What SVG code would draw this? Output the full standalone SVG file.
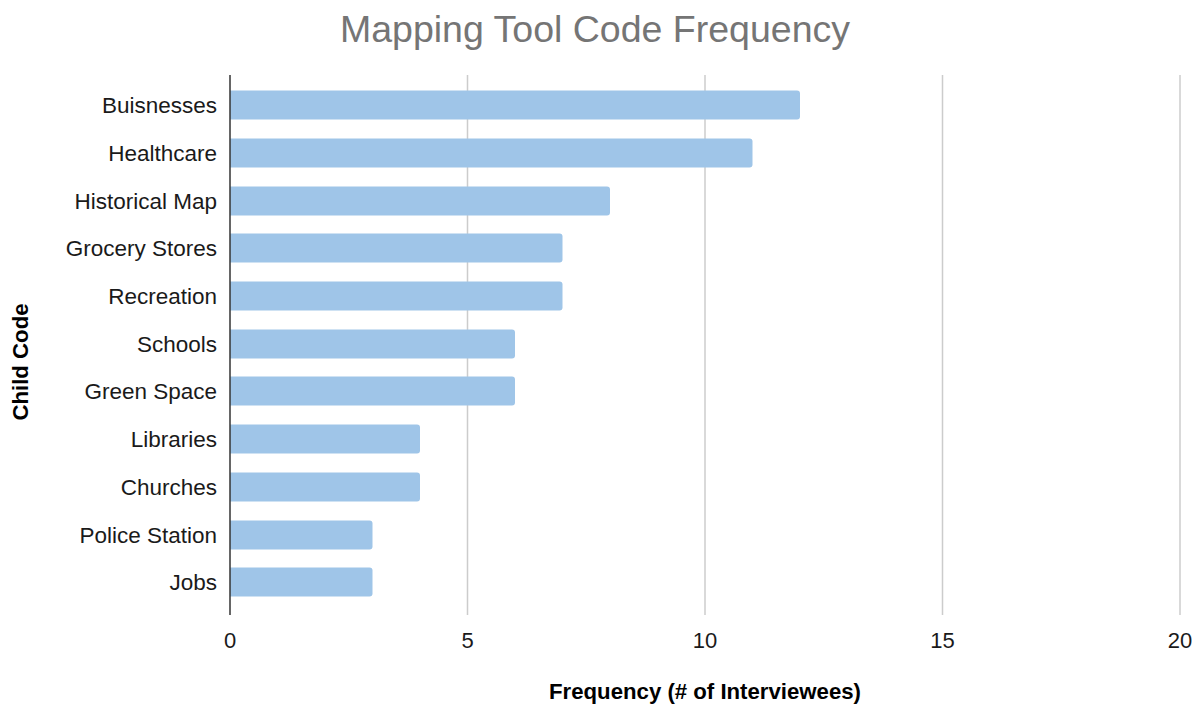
<svg xmlns="http://www.w3.org/2000/svg" width="1200" height="706" viewBox="0 0 1200 706">
<style>
.grid{stroke:#cccccc;stroke-width:1.5}
.axis{stroke:#333333;stroke-width:1.5}
.bar{fill:#9fc5e8}
.cat{font-family:"Liberation Sans",Arial,sans-serif;font-size:22.5px;fill:#1a1a1a;text-anchor:end}
.tick{font-family:"Liberation Sans",Arial,sans-serif;font-size:22px;fill:#1a1a1a;text-anchor:middle}
.atitle{font-family:"Liberation Sans",Arial,sans-serif;font-size:22.2px;font-weight:bold;fill:#000000;text-anchor:middle}
.title{font-family:"Liberation Sans",Arial,sans-serif;font-size:37.5px;fill:#757575;text-anchor:middle}
</style>
<rect width="1200" height="706" fill="#ffffff"/>
<text class="title" x="595" y="42">Mapping Tool Code Frequency</text>
<g id="gridlines">
<line class="grid" x1="467.5" y1="75" x2="467.5" y2="615"/>
<line class="grid" x1="705" y1="75" x2="705" y2="615"/>
<line class="grid" x1="942.5" y1="75" x2="942.5" y2="615"/>
<line class="grid" x1="1180" y1="75" x2="1180" y2="615"/>
</g>
<g id="bars">
<path class="bar" d="M230,90.5 H797 a3,3 0 0 1 3,3 V116.5 a3,3 0 0 1 -3,3 H230 Z"/>
<path class="bar" d="M230,138.5 H749.5 a3,3 0 0 1 3,3 V164.5 a3,3 0 0 1 -3,3 H230 Z"/>
<path class="bar" d="M230,186.5 H607 a3,3 0 0 1 3,3 V212.5 a3,3 0 0 1 -3,3 H230 Z"/>
<path class="bar" d="M230,233.5 H559.5 a3,3 0 0 1 3,3 V259.5 a3,3 0 0 1 -3,3 H230 Z"/>
<path class="bar" d="M230,281.5 H559.5 a3,3 0 0 1 3,3 V307.5 a3,3 0 0 1 -3,3 H230 Z"/>
<path class="bar" d="M230,329.5 H512 a3,3 0 0 1 3,3 V355.5 a3,3 0 0 1 -3,3 H230 Z"/>
<path class="bar" d="M230,376.5 H512 a3,3 0 0 1 3,3 V402.5 a3,3 0 0 1 -3,3 H230 Z"/>
<path class="bar" d="M230,424.5 H417 a3,3 0 0 1 3,3 V450.5 a3,3 0 0 1 -3,3 H230 Z"/>
<path class="bar" d="M230,472.5 H417 a3,3 0 0 1 3,3 V498.5 a3,3 0 0 1 -3,3 H230 Z"/>
<path class="bar" d="M230,520.5 H369.5 a3,3 0 0 1 3,3 V546.5 a3,3 0 0 1 -3,3 H230 Z"/>
<path class="bar" d="M230,567.5 H369.5 a3,3 0 0 1 3,3 V593.5 a3,3 0 0 1 -3,3 H230 Z"/>
</g>
<g id="axis">
<line class="axis" x1="230" y1="75" x2="230" y2="615"/>
</g>
<g id="categories">
<text class="cat" x="217" y="113">Buisnesses</text>
<text class="cat" x="217" y="161">Healthcare</text>
<text class="cat" x="217" y="209">Historical Map</text>
<text class="cat" x="217" y="256">Grocery Stores</text>
<text class="cat" x="217" y="304">Recreation</text>
<text class="cat" x="217" y="352">Schools</text>
<text class="cat" x="217" y="399">Green Space</text>
<text class="cat" x="217" y="447">Libraries</text>
<text class="cat" x="217" y="495">Churches</text>
<text class="cat" x="217" y="543">Police Station</text>
<text class="cat" x="217" y="590">Jobs</text>
</g>
<g id="ticks">
<text class="tick" x="230" y="648">0</text>
<text class="tick" x="467.5" y="648">5</text>
<text class="tick" x="705" y="648">10</text>
<text class="tick" x="942.5" y="648">15</text>
<text class="tick" x="1180" y="648">20</text>
</g>
<text class="atitle" x="705" y="699">Frequency (# of Interviewees)</text>
<text class="atitle" transform="translate(28,362) rotate(-90)">Child Code</text>
</svg>
